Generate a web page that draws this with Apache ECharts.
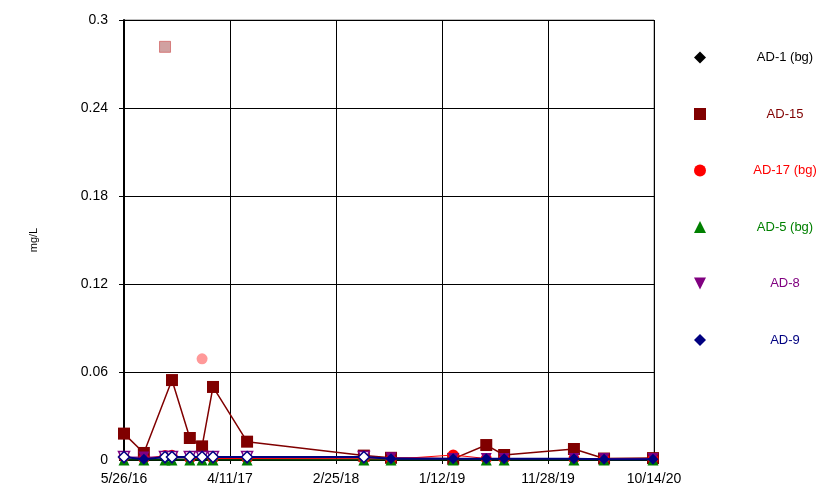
<!DOCTYPE html>
<html><head><meta charset="utf-8">
<script src="https://cdn.jsdelivr.net/npm/echarts@6/dist/echarts.min.js"></script>
<style>html,body{margin:0;padding:0;background:#fff}#c{width:821px;height:489px}</style>
</head><body><div id="c"></div>
<script>
// ---- data ----
const dates = ['2016-05-26','2016-07-25','2016-09-27','2016-10-18','2016-12-11','2017-01-17','2017-02-19','2017-06-02',
  '2018-05-21','2018-08-11','2019-02-15','2019-05-26','2019-07-19','2020-02-15','2020-05-16','2020-10-11'];
const ad1  = [0.0005,0.0005,0.0005,0.0005,0.0005,0.0005,0.0005,0.0005,0.0005,0.0005,0.0005,0.0005,0.0005,0.0005,0.0005,0.0005];
const ad15 = [0.018,0.0048,null,0.0545,0.015,0.0093,0.0498,0.0125,0.003,0.0015,0.0008,0.0102,0.0034,0.0075,0.001,0.0013];
const ad17 = [0.002,0.001,0.003,0.0032,0.001,null,0.001,0.001,0.0008,0.0005,0.0034,0.001,0.001,0.001,0.001,0.0008];
const ad5  = [0,0,0,0,0,0,0,0,0,0,0,0,0,0,0,0];
const ad8  = [0.002,0.002,0.002,0.002,0.002,0.002,0.002,0.002,0.002,0.0015,0.001,0.001,0.001,0.001,0.001,0.001];
const ad9  = [0.002,0.0005,0.002,0.002,0.002,0.002,0.002,0.002,0.002,0.0008,0.0008,0.0008,0.0008,0.0008,0.0005,0.0005];
const nonDetect = [true,false,true,true,true,true,true,true,true,false,false,false,false,false,false,false];
const ad15Outlier = { date: '2016-09-27', value: 0.2817 };
const ad17Outlier = { date: '2017-01-17', value: 0.069 };
const startDate = '2016-05-26';
const endDays = 1602;          // 10/14/20
const xTickInterval = 320.4;   // days
const yMin = 0, yMax = 0.3, yInterval = 0.06;
const names = ['AD-1 (bg)','AD-15','AD-17 (bg)','AD-5 (bg)','AD-8','AD-9'];

// ---- helpers ----
const t0 = Date.parse(startDate + 'T00:00:00Z');
function dayOf(s){ return (Date.parse(s + 'T00:00:00Z') - t0) / 86400000; }
function fmt(d){
  const t = new Date(t0 + Math.floor(d + 1e-6) * 86400000);
  return (t.getUTCMonth()+1) + '/' + t.getUTCDate() + '/' + String(t.getUTCFullYear()).slice(2);
}
const colors = ['#000000','#800000','#FF0000','#008000','#800080','#000080'];
const downTri = 'path://M0,0 L10,0 L5,10 Z';
const symbols = ['diamond','rect','circle','triangle',downTri,'diamond'];
const sizes = [10,12,11,11,11,11];

function pts(vals, hollow, color){
  return dates.map((d,i) => {
    const item = { value: [dayOf(d), vals[i]] };
    if (hollow && nonDetect[i]) item.itemStyle = { color: '#ffffff', borderColor: color, borderWidth: 1.5 };
    return item;
  });
}
const allVals = [ad1, ad15, ad17, ad5, ad8, ad9];
const hollowSeries = [false,false,false,false,true,true];
const lineW = [1.5,1.5,1,1,1,2];

const series = allVals.map((v,k) => ({
  name: names[k], type: 'line', connectNulls: true,
  symbol: symbols[k], symbolSize: sizes[k],
  itemStyle: { color: colors[k] },
  lineStyle: { color: colors[k], width: lineW[k] },
  data: pts(v, hollowSeries[k], colors[k]),
  z: 2 + k
}));
series.push({
  name: 'AD-15', type: 'scatter', symbol: 'rect', symbolSize: 11,
  itemStyle: { color: 'rgba(150,40,40,0.55)', borderColor: 'rgba(200,60,60,0.7)', borderWidth: 1 },
  data: [[dayOf(ad15Outlier.date), ad15Outlier.value]]
});
series.push({
  name: 'AD-17 (bg)', type: 'scatter', symbol: 'circle', symbolSize: 11,
  itemStyle: { color: 'rgba(255,0,0,0.5)' },
  data: [[dayOf(ad17Outlier.date), ad17Outlier.value]]
});

const chart = echarts.init(document.getElementById('c'), null, { renderer: 'canvas' });
chart.setOption({
  animation: false,
  backgroundColor: '#ffffff',
  textStyle: { fontFamily: 'Liberation Sans, Arial, sans-serif' },
  grid: { left: 124, right: 167, top: 20, bottom: 29, show: true, borderColor: '#808080', borderWidth: 1 },
  xAxis: {
    type: 'value', min: 0, max: endDays, interval: xTickInterval,
    axisLine: { show: true, lineStyle: { color: '#000', width: 1.5 } },
    axisTick: { show: true, length: 4, lineStyle: { color: '#000' } },
    axisLabel: { formatter: fmt, color: '#000', fontSize: 14, margin: 12, showMaxLabel: true, showMinLabel: true },
    splitLine: { show: true, lineStyle: { color: '#000', width: 1 } }
  },
  yAxis: {
    type: 'value', min: yMin, max: yMax, interval: yInterval,
    name: 'mg/L', nameLocation: 'middle', nameRotate: 90, nameGap: 85,
    nameTextStyle: { color: '#000', fontSize: 11 },
    axisLine: { show: true, lineStyle: { color: '#000', width: 2 } },
    axisTick: { show: true, length: 5, lineStyle: { color: '#000' } },
    axisLabel: { color: '#000', fontSize: 14, margin: 16 },
    splitLine: { show: true, lineStyle: { color: '#000', width: 1 } }
  },
  legend: {
    orient: 'vertical', left: 689, top: 46, itemGap: 43.5, itemWidth: 12, itemHeight: 12,
    formatter: '{a|{name}}',
    textStyle: { fontSize: 13, rich: { a: { width: 148, align: 'center', fontSize: 13 } } },
    data: names.map((n,k) => ({ name: n, icon: symbols[k], itemStyle: { color: colors[k] }, textStyle: { color: colors[k] } }))
  },
  series: series
});
</script>
</body></html>
